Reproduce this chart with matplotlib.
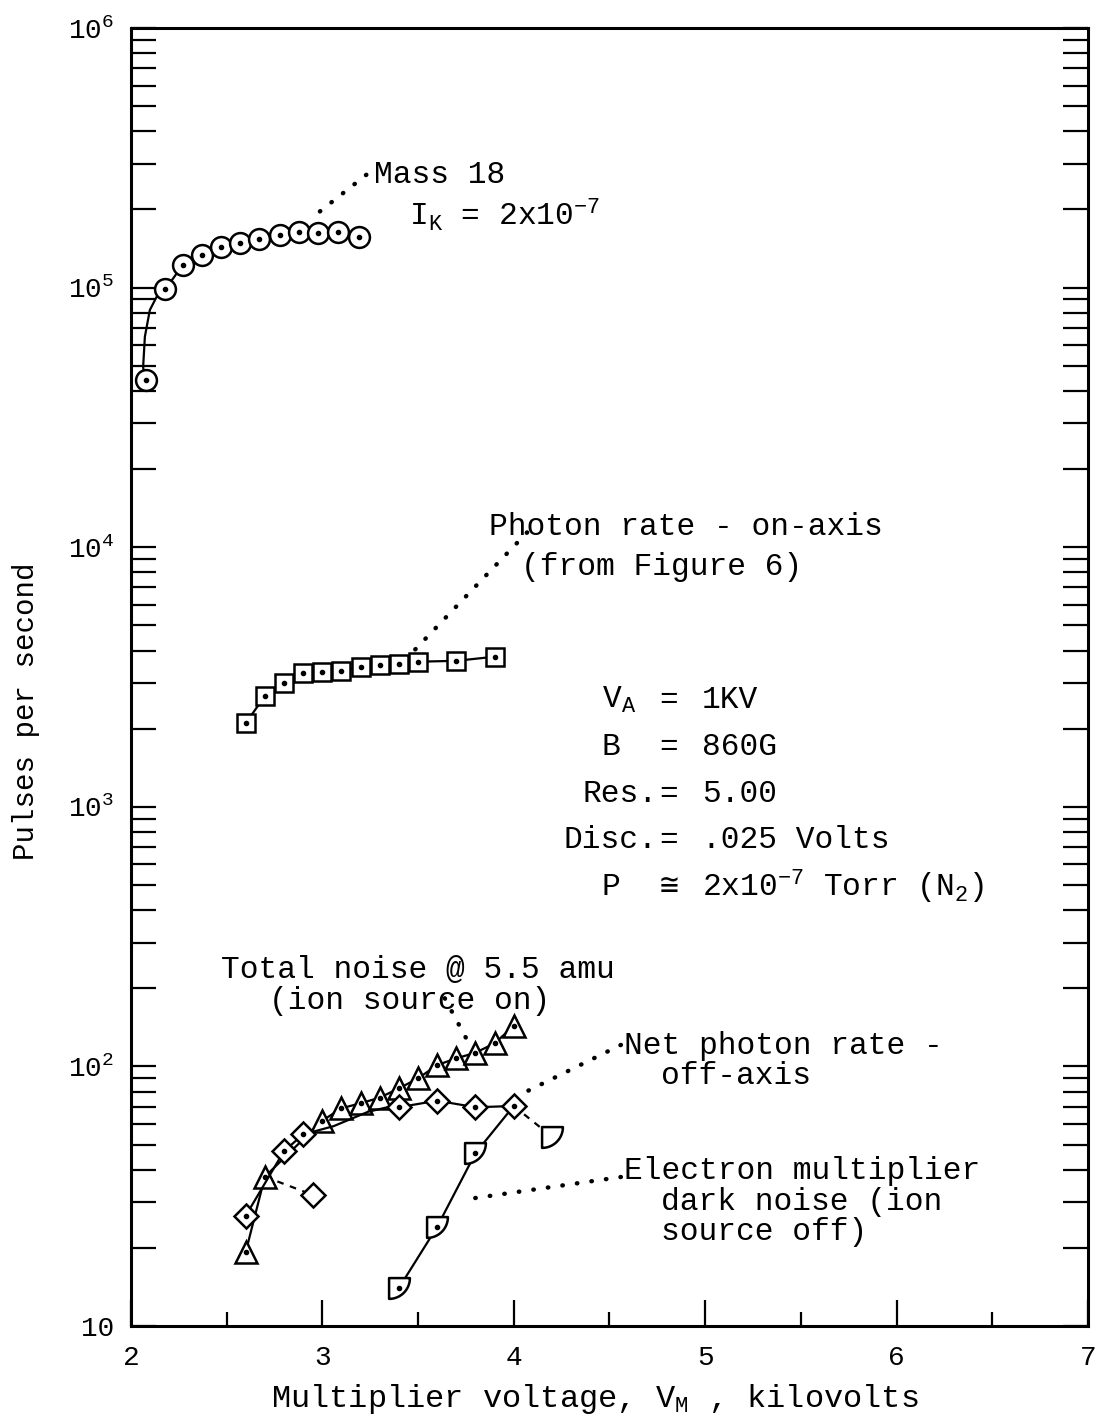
import numpy as np
import matplotlib
matplotlib.use('Agg')
import matplotlib.pyplot as plt
from matplotlib.path import Path
from matplotlib.ticker import FixedLocator, FixedFormatter, MultipleLocator, NullFormatter

plt.rcParams['font.family'] = ['Liberation Mono', 'DejaVu Sans Mono']
plt.rcParams['mathtext.fontset'] = 'custom'
plt.rcParams['mathtext.rm'] = 'Liberation Mono'
plt.rcParams['mathtext.it'] = 'Liberation Mono'
plt.rcParams['mathtext.bf'] = 'Liberation Mono:bold'

# -----------------------------
#  Data
# -----------------------------
# Mass 18, I_K = 2x10^-7
mass_x = [2.08, 2.18, 2.27, 2.37, 2.47, 2.57, 2.67, 2.78, 2.88, 2.98, 3.08, 3.19]
mass_y = [4.4e4, 9.85e4, 1.22e5, 1.335e5, 1.44e5, 1.49e5, 1.54e5, 1.595e5,
          1.633e5, 1.627e5, 1.633e5, 1.571e5]
# hand-drawn curve from the first point up to the second
mass_curve_x = [2.072, 2.064, 2.073, 2.099, 2.134, 2.18]
mass_curve_y = [4.4e4, 4.96e4, 6.47e4, 8.2e4, 9.2e4, 9.85e4]

# Photon rate - on-axis (from Figure 6)
photon_x = [2.6, 2.7, 2.8, 2.9, 3.0, 3.1, 3.2, 3.3, 3.4, 3.5, 3.7, 3.9]
photon_y = [2099, 2673, 3006, 3267, 3316, 3346, 3467, 3517, 3548, 3622, 3651, 3786]

# Total noise @ 5.5 amu (ion source on)
total_x = [2.6, 2.7, 3.0, 3.1, 3.2, 3.3, 3.4, 3.5, 3.6, 3.7, 3.8, 3.9, 4.0]
total_y = [19.3, 37.6, 61.8, 69.0, 72.1, 75.8, 82.3, 89.9, 101.2, 107.4, 112.9, 122.7, 143.2]

# Net photon rate - off-axis
net_x = [2.6, 2.8, 2.9, 3.4, 3.6, 3.8, 4.0]
net_y = [26.6, 47.2, 54.7, 69.6, 73.8, 69.6, 70.4]
net_curve_x = [3.06, 3.24, 3.34]
net_curve_y = [58.9, 66.9, 69.6]
net_out_x, net_out_y = 2.95, 32.0

# Electron multiplier dark noise (ion source off)
dark_x = [3.4, 3.6, 3.8, 4.0]
dark_y = [14.0, 24.1, 46.3, 70.4]
dark_out_x, dark_out_y = 4.2, 53.6

y_ticks = [10, 1e2, 1e3, 1e4, 1e5, 1e6]
y_tick_labels = ['10', r'10$^{2}$', r'10$^{3}$', r'10$^{4}$', r'10$^{5}$', r'10$^{6}$']
x_ticks = [2, 3, 4, 5, 6, 7]

# quarter-disc marker used for the dark-noise points
t = np.linspace(0, -np.pi / 2, 20)
verts = [(-1, 1), (1, 1)] + [(-1 + 2 * np.cos(a), 1 + 2 * np.sin(a)) for a in t[1:]] + [(-1, 1)]
quarter = Path(verts, closed=True)

fig = plt.figure(figsize=(11, 14.22), dpi=100)
ax = fig.add_axes([0.119, 0.0675, 0.87, 0.9128])
ax.set_yscale('log')

k = 'black'
lw = 1.6
mk = dict(ls='none', mfc='white', mec=k, mew=1.8)
dot = dict(ls='none', marker='.', ms=6, color=k)

# Mass 18
ax.plot(mass_curve_x, mass_curve_y, color=k, lw=lw, zorder=2)
ax.plot(mass_x[1:], mass_y[1:], color=k, lw=lw, zorder=2)
ax.plot(mass_x, mass_y, marker='o', ms=15, zorder=3, **mk)
ax.plot(mass_x, mass_y, zorder=4, **dot)

# Photon rate on-axis
ax.plot(photon_x, photon_y, color=k, lw=lw, zorder=2)
ax.plot(photon_x, photon_y, marker='s', ms=13, zorder=3, **mk)
ax.plot(photon_x, photon_y, zorder=4, **dot)

# Total noise
ax.plot(total_x, total_y, color=k, lw=lw, zorder=2)
ax.plot(total_x, total_y, marker='^', ms=16, zorder=3, **mk)
ax.plot(total_x, total_y, zorder=4, **dot)
ax.plot([total_x[1], net_out_x], [total_y[1], net_out_y], color=k, lw=lw,
        ls=(0, (3, 3)), zorder=2)

# Net photon rate off-axis
order = np.argsort(net_x + net_curve_x)
line_x = np.array(net_x + net_curve_x)[order]
line_y = np.array(net_y + net_curve_y)[order]
ax.plot(line_x, line_y, color=k, lw=lw, zorder=4)
ax.plot(net_x, net_y, marker='D', ms=12, zorder=5, **mk)
ax.plot(net_x, net_y, zorder=6, **dot)
ax.plot([net_out_x], [net_out_y], marker='D', ms=12, zorder=5, **mk)

# Dark noise
ax.plot(dark_x, dark_y, color=k, lw=lw, zorder=2)
ax.plot(dark_x[:3], dark_y[:3], marker=quarter, ms=15, zorder=3, **mk)
ax.plot(dark_x[:3], dark_y[:3], zorder=4, **dot)
ax.plot([net_x[-1], dark_out_x], [net_y[-1], dark_out_y], color=k, lw=lw,
        ls=(0, (3, 3)), zorder=2)
ax.plot([dark_out_x], [dark_out_y], marker=quarter, ms=15, zorder=5, **mk)

# ----------------
#  Axes and ticks
# ----------------
ax.set_xlim(2, 7)
ax.set_ylim(10, 1e6)
for s in ax.spines.values():
    s.set_linewidth(2.2)

ax.xaxis.set_major_locator(FixedLocator(x_ticks))
ax.xaxis.set_minor_locator(MultipleLocator(0.5))
ax.tick_params(axis='x', which='major', direction='in', length=19, width=1.6,
               labelsize=20, pad=14, top=False)
ax.tick_params(axis='x', which='minor', direction='in', length=10, width=1.6, top=False)

ax.yaxis.set_major_locator(FixedLocator(y_ticks))
ax.yaxis.set_major_formatter(FixedFormatter(y_tick_labels))
ax.yaxis.set_minor_formatter(NullFormatter())
ax.tick_params(axis='y', which='both', direction='in', length=18, width=1.6,
               left=True, right=True, labelsize=20, pad=12)

fig.text(0.024, 0.5, 'Pulses per second', rotation=90, ha='center', va='center', fontsize=21)
fig.text(0.541, 0.016, r'Multiplier voltage, V$_\mathrm{M}$ , kilovolts',
         ha='center', va='center', fontsize=23)

# ------------
#  Labels
# ------------
fs = 22.5
ax.text(3.27, 2.72e5, 'Mass 18', fontsize=fs, va='center', ha='left')
ax.text(3.455, 1.9e5, r'I$_\mathrm{K}$ = 2x10$^{-7}$', fontsize=fs, va='center', ha='left')
ax.text(3.87, 1.2e4, 'Photon rate - on-axis', fontsize=fs, va='center', ha='left')
ax.text(4.04, 8.4e3, '(from Figure 6)', fontsize=fs, va='center', ha='left')
ax.text(2.47, 235, 'Total noise @ 5.5 amu', fontsize=fs, va='center', ha='left')
ax.text(2.72, 178, '(ion source on)', fontsize=fs, va='center', ha='left')
ax.text(4.575, 120, 'Net photon rate -', fontsize=fs, va='center', ha='left')
ax.text(4.77, 92, 'off-axis', fontsize=fs, va='center', ha='left')
ax.text(4.575, 39.5, 'Electron multiplier', fontsize=fs, va='center', ha='left')
ax.text(4.77, 30, 'dark noise (ion', fontsize=fs, va='center', ha='left')
ax.text(4.77, 23, 'source off)', fontsize=fs, va='center', ha='left')

# parameter block
rows_y = [2.58e3, 1.70e3, 1.12e3, 7.45e2, 4.9e2]
left_x = [4.46, 4.46, 4.36, 4.26, 4.46]
left_txt = [r'V$_\mathrm{A}$', 'B', 'Res.', 'Disc.', 'P']
right_txt = ['1KV', '860G', '5.00', '.025 Volts', r'2x10$^{-7}$ Torr (N$_\mathrm{2}$)']
for yy, lx, lt, rt in zip(rows_y, left_x, left_txt, right_txt):
    ax.text(lx, yy, lt, fontsize=fs, va='center', ha='left')
    ax.text(4.985, yy, rt, fontsize=fs, va='center', ha='left')
for yy in rows_y[:4]:
    ax.text(4.81, yy, '=', fontsize=fs, va='center', ha='center')
ax.text(4.81, rows_y[4], '\u2245', fontsize=fs, va='center', ha='center',
        family=['Liberation Mono', 'DejaVu Sans Mono', 'DejaVu Sans'])

# dotted leaders
lead = dict(arrowstyle='-', linestyle=(0, (0.1, 3.2)), lw=3.2, color=k,
            capstyle='round', shrinkA=0, shrinkB=0)
ax.annotate('', xy=(2.93, 1.82e5), xytext=(3.23, 2.72e5), arrowprops=lead)
ax.annotate('', xy=(3.48, 4.0e3), xytext=(4.07, 1.14e4), arrowprops=lead)
ax.annotate('', xy=(3.75, 129), xytext=(3.64, 183), arrowprops=lead)
ax.annotate('', xy=(4.03, 77.6), xytext=(4.56, 121), arrowprops=lead)
ax.annotate('', xy=(3.73, 30.6), xytext=(4.56, 37.5), arrowprops=lead)

fig.savefig('out.png', dpi=100)
